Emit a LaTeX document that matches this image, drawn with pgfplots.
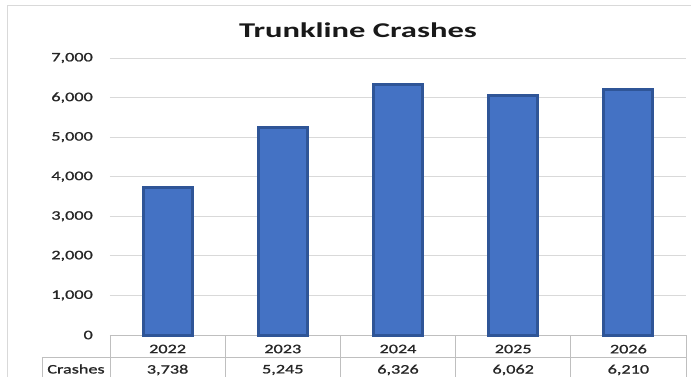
\documentclass[border=0pt]{standalone}
\usepackage{pgfplots}
\pgfplotsset{compat=1.18}
\usepackage{fontspec}
\setmainfont{Carlito}[FakeStretch=1.4, FakeBold=1.0]
\newfontfamily\titlefont{Carlito}[FakeStretch=1.55]
\definecolor{barfill}{HTML}{4472C4}
\definecolor{barline}{HTML}{2F5597}
\definecolor{gridc}{HTML}{D9D9D9}
\definecolor{tabc}{HTML}{BFBFBF}
\definecolor{txt}{HTML}{262626}
\begin{document}
\begin{tikzpicture}[x=1pt,y=1pt]
\path[use as bounding box] (-110,-41) rectangle (581,335);
\fill[white] (-110,-41) rectangle (581,335);
\draw[gray!30,line width=1pt] (-102,-60) rectangle (600,330);
\node[font=\titlefont\bfseries\fontsize{21}{25}\selectfont, text=black!90] at (248,305) {Trunkline Crashes};
\begin{axis}[
  at={(0,0)}, anchor=origin, scale only axis,
  width=576pt, height=277pt,
  xmin=0, xmax=5, ymin=0, ymax=7000,
  ytick={0,1000,...,7000}, xtick=\empty,
  ymajorgrids, grid style={gridc, line width=0.8pt},
  axis x line*=bottom, axis y line*=left,
  y axis line style={draw=none},
  x axis line style={tabc, line width=0.8pt},
  major tick length=0pt,
  yticklabel style={font=\fontsize{13}{15}\selectfont, text=txt, anchor=east, inner sep=0pt, xshift=-17pt},
  /pgf/number format/assume math mode=true,
  /pgf/number format/1000 sep={,},
  clip=false,
]
\addplot[ybar, bar width=49pt, fill=barfill, draw=barline, line width=3pt]
  coordinates {(0.5,3738) (1.5,5245) (2.5,6326) (3.5,6062) (4.5,6210)};
\draw[tabc, line width=0.8pt] ([xshift=-68pt,yshift=-22pt]axis cs:0,0) -- ([yshift=-22pt]axis cs:5,0);
\draw[tabc, line width=0.8pt] ([xshift=-68pt,yshift=-22pt]axis cs:0,0) -- ([xshift=-68pt,yshift=-50pt]axis cs:0,0);
\pgfplotsinvokeforeach{0,1,2,3,4,5}{
  \draw[tabc, line width=0.8pt] (axis cs:#1,0) -- ([yshift=-50pt]axis cs:#1,0);
}
\node[font=\fontsize{13}{15}\selectfont, text=txt] at ([xshift=-34pt,yshift=-34pt]axis cs:0,0) {Crashes};
\node[font=\fontsize{13}{15}\selectfont, text=txt] at ([yshift=-14pt]axis cs:0.5,0) {2022};
\node[font=\fontsize{13}{15}\selectfont, text=txt] at ([yshift=-14pt]axis cs:1.5,0) {2023};
\node[font=\fontsize{13}{15}\selectfont, text=txt] at ([yshift=-14pt]axis cs:2.5,0) {2024};
\node[font=\fontsize{13}{15}\selectfont, text=txt] at ([yshift=-14pt]axis cs:3.5,0) {2025};
\node[font=\fontsize{13}{15}\selectfont, text=txt] at ([yshift=-14pt]axis cs:4.5,0) {2026};
\node[font=\fontsize{13}{15}\selectfont, text=txt] at ([yshift=-35pt]axis cs:0.5,0) {3,738};
\node[font=\fontsize{13}{15}\selectfont, text=txt] at ([yshift=-35pt]axis cs:1.5,0) {5,245};
\node[font=\fontsize{13}{15}\selectfont, text=txt] at ([yshift=-35pt]axis cs:2.5,0) {6,326};
\node[font=\fontsize{13}{15}\selectfont, text=txt] at ([yshift=-35pt]axis cs:3.5,0) {6,062};
\node[font=\fontsize{13}{15}\selectfont, text=txt] at ([yshift=-35pt]axis cs:4.5,0) {6,210};
\end{axis}
\end{tikzpicture}
\end{document}
